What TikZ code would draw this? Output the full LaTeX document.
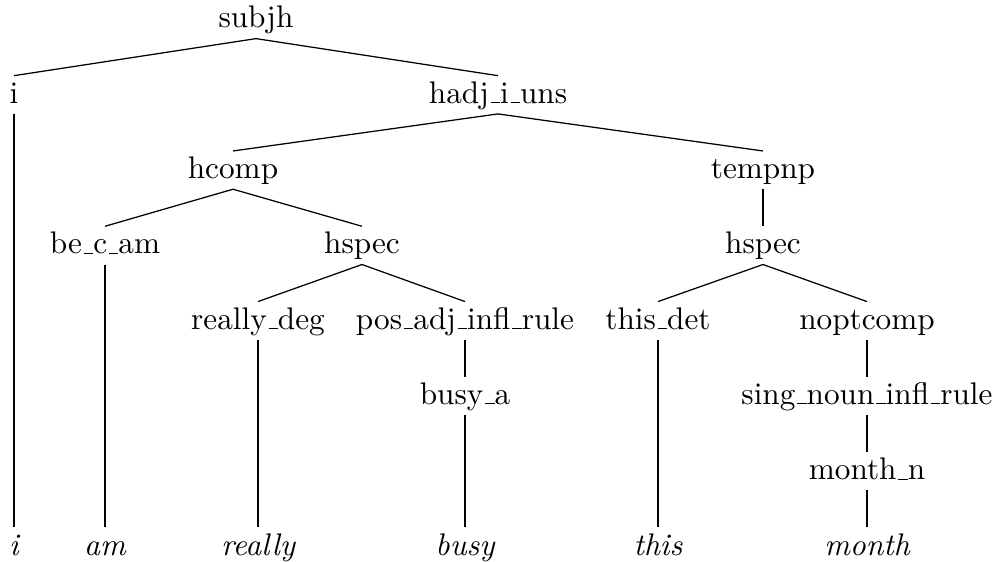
\documentclass[tikz,border=0pt]{standalone}
% short baseline rule used as the underscore in the labels
\newcommand{\usc}{\leavevmode\kern.06em\vbox{\hrule width.3em}}
\begin{document}
\begin{tikzpicture}[x=0.32pt,y=-0.32pt,
  tn/.style={anchor=base, inner xsep=1pt, inner ysep=1.5pt,
             text height=7.14pt, text depth=1.7pt},
  lf/.style={tn, font=\itshape},
  edge/.style={line width=0.4pt}]
\useasboundingbox (0,0) rectangle (995,562);

% internal nodes, one row per level
\node[tn] (subjh)     at (256,28)    {subjh};
\node[tn] (i)         at (14,103.3)  {i};
\node[tn] (hadj)      at (498,103.3) {hadj\usc i\usc uns};
\node[tn] (hcomp)     at (233,178.6) {hcomp};
\node[tn] (tempnp)    at (763,178.6) {tempnp};
\node[tn] (becam)     at (105,253.9) {be\usc c\usc am};
\node[tn] (hspecL)    at (362,253.9) {hspec};
\node[tn] (hspecR)    at (763,253.9) {hspec};
\node[tn] (reallydeg) at (258,329.2) {really\usc deg};
\node[tn] (posadj)    at (465,329.2) {pos\usc adj\usc infl\usc rule};
\node[tn] (thisdet)   at (658,329.2) {this\usc det};
\node[tn] (noptcomp)  at (867,329.2) {noptcomp};
\node[tn] (busya)     at (465,404.5) {busy\usc a};
\node[tn] (singnoun)  at (867,404.5) {sing\usc noun\usc infl\usc rule};
\node[tn] (monthn)    at (867,479.8) {month\usc n};

% words
\node[lf] (wi)      at (14,555.1)  {i};
\node[lf] (wam)     at (105,555.1) {am};
\node[lf] (wreally) at (258,555.1) {really};
\node[lf] (wbusy)   at (465,555.1) {busy};
\node[lf] (wthis)   at (658,555.1) {this};
\node[lf] (wmonth)  at (867,555.1) {month};

% branches
\draw[edge] (subjh.south) -- (i.north);
\draw[edge] (subjh.south) -- (hadj.north);
\draw[edge] (i.south) -- (wi.north);
\draw[edge] (hadj.south) -- (hcomp.north);
\draw[edge] (hadj.south) -- (tempnp.north);
\draw[edge] (hcomp.south) -- (becam.north);
\draw[edge] (hcomp.south) -- (hspecL.north);
\draw[edge] (tempnp.south) -- (hspecR.north);
\draw[edge] (becam.south) -- (wam.north);
\draw[edge] (hspecL.south) -- (reallydeg.north);
\draw[edge] (hspecL.south) -- (posadj.north);
\draw[edge] (reallydeg.south) -- (wreally.north);
\draw[edge] (posadj.south) -- (busya.north);
\draw[edge] (busya.south) -- (wbusy.north);
\draw[edge] (hspecR.south) -- (thisdet.north);
\draw[edge] (hspecR.south) -- (noptcomp.north);
\draw[edge] (thisdet.south) -- (wthis.north);
\draw[edge] (noptcomp.south) -- (singnoun.north);
\draw[edge] (singnoun.south) -- (monthn.north);
\draw[edge] (monthn.south) -- (wmonth.north);
\end{tikzpicture}
\end{document}
